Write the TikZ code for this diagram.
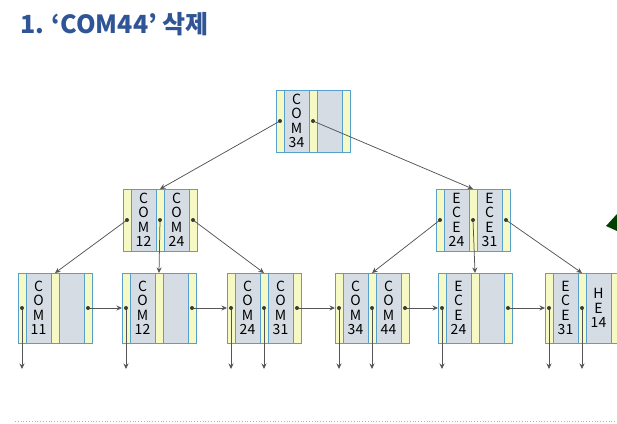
\documentclass[tikz,border=0pt]{standalone}
\usepackage{fontspec}
\usepackage{xcolor}
\usetikzlibrary{positioning,arrows.meta}
\newfontfamily\cjkfont{Noto Sans CJK KR}
\definecolor{cborder}{RGB}{86,160,206}
\definecolor{cyellow}{RGB}{246,249,196}
\definecolor{cgray}{RGB}{213,220,228}
\definecolor{ctitle}{RGB}{47,85,151}
\definecolor{clink}{RGB}{85,85,85}

% one B+ tree node: name, x, y, height, key 1, key 2
\newcommand{\bpnode}[6]{%
  \node[ptrbox, minimum height=#4] (#1-p0) at (#2,#3) {};
  \node[keybox, minimum height=#4, right=0pt of #1-p0] (#1-k1) {#5};
  \node[ptrbox, minimum height=#4, right=0pt of #1-k1] (#1-p1) {};
  \node[keybox, minimum height=#4, right=0pt of #1-p1] (#1-k2) {#6};
  \node[ptrbox, minimum height=#4, right=0pt of #1-k2] (#1-p2) {};
}

\begin{document}
\begin{tikzpicture}[
      x=1pt, y=-1pt, >={Stealth[length=5.5pt, width=5pt, inset=1.8pt]},
      ptrbox/.style={draw=cborder, fill=cyellow, line width=0.8pt, minimum width=8pt,
                     inner sep=0pt, outer sep=0pt},
      keybox/.style={draw=cborder, fill=cgray, line width=0.8pt, minimum width=25pt,
                     inner sep=0pt, outer sep=0pt, align=center,
                     font=\cjkfont\fontsize{14}{14.5}\selectfont},
      link/.style={->, line width=0.75pt, clink}
    ]
    \clip (0,0) rectangle (617,423);
    \node[anchor=base west, inner sep=0pt, text=ctitle,
          font=\cjkfont\bfseries\fontsize{25}{30}\selectfont] (title) at (20,33) {1. ‘COM44’ 삭제};

    % tree
    \bpnode{root}{280}{121}{62pt}{C\\O\\M\\34}{}
    \bpnode{l2a}{127}{220}{62pt}{C\\O\\M\\12}{C\\O\\M\\24}
    \bpnode{l2b}{440}{220}{62pt}{E\\C\\E\\24}{E\\C\\E\\31}
    % leaves
    \bpnode{c1}{22}{308}{70pt}{C\\O\\M\\11}{}
    \bpnode{c2}{126}{308}{70pt}{C\\O\\M\\12}{}
    \bpnode{c3}{231}{308}{70pt}{C\\O\\M\\24}{C\\O\\M\\31}
    \bpnode{c4}{339}{308}{70pt}{C\\O\\M\\34}{C\\O\\M\\44}
    \bpnode{c5}{442}{308}{70pt}{E\\C\\E\\24}{}
    \bpnode{c6}{549}{308}{70pt}{E\\C\\E\\31}{H\\E\\14}
    \coordinate (down) at (0,369);

    \draw[link] (root-p0.center) -- (l2a-p1.north);
    \draw[link] (root-p1.center) -- (l2b-p1.north);
    \draw[link] (l2a-p0.center) -- (c1-p1.north);
    \draw[link] (l2a-p1.center) -- (c2-p1.north);
    \draw[link] (l2a-p2.center) -- (c3-p1.north);
    \draw[link] (l2b-p0.center) -- (c4-p1.north);
    \draw[link] (l2b-p1.center) -- (c5-p1.north);
    \draw[link] (l2b-p2.center) -- (c6-p1.north);

    % leaf chain
    \foreach \a/\b in {c1/c2, c2/c3, c3/c4, c4/c5, c5/c6}
      \draw[link] (\a-p2.center) -- (\b-p0.west);
    % record pointers
    \foreach \p in {c1-p0, c2-p0, c3-p0, c3-p1, c4-p0, c4-p1, c5-p0, c6-p0, c6-p1}
      \draw[link] (\p.center) -- (\p.center |- down);

    \foreach \p in {root-p0, root-p1, l2a-p0, l2a-p1, l2a-p2, l2b-p0, l2b-p1, l2b-p2,
                    c1-p0, c1-p2, c2-p0, c2-p2, c3-p0, c3-p1, c3-p2, c4-p0, c4-p1, c4-p2,
                    c5-p0, c5-p2, c6-p0, c6-p1}
      \fill[clink!70!black] (\p.center) circle (2pt);

    \fill[green!25!black] (606,226) -- (617,214) -- (617,231) -- cycle;
    \draw[cborder!70, dotted, line width=0.8pt] (15,421) -- (617,421);
  \end{tikzpicture}
\end{document}
